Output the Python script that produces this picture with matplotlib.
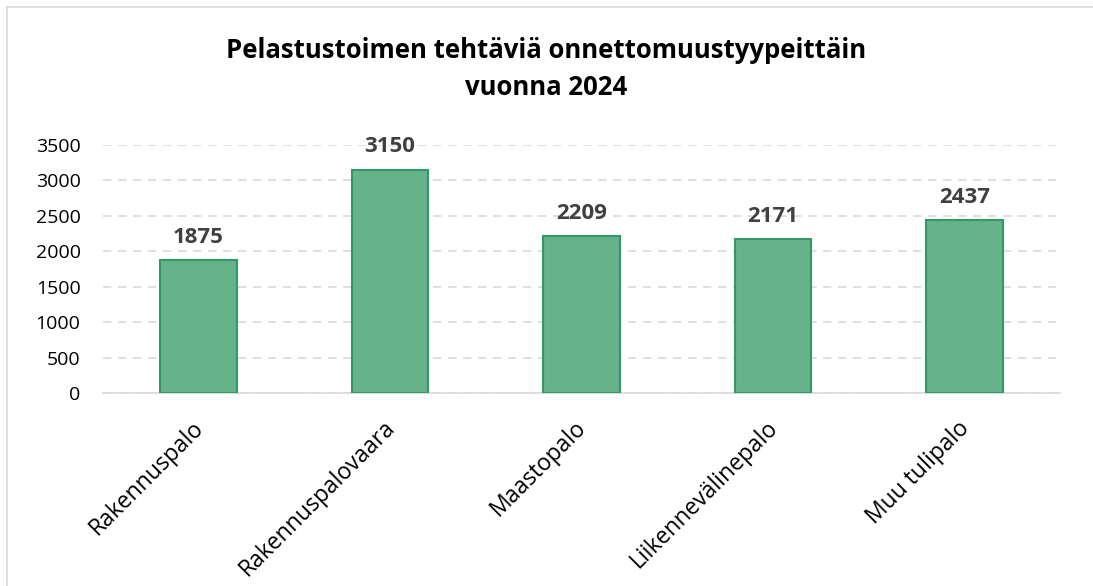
import matplotlib
matplotlib.use("Agg")
import matplotlib.pyplot as plt
from matplotlib.lines import Line2D
from matplotlib.transforms import ScaledTranslation

categories = ["Rakennuspalo", "Rakennuspalovaara", "Maastopalo", "Liikennevälinepalo", "Muu tulipalo"]
values = [1875, 3150, 2209, 2171, 2437]
yticks = [0, 500, 1000, 1500, 2000, 2500, 3000, 3500]
title = "Pelastustoimen tehtäviä onnettomuustyypeittäin\nvuonna 2024"

plt.rcParams['font.family'] = ['Open Sans', 'DejaVu Sans']

fig = plt.figure(figsize=(10.93, 5.86), dpi=100)
# chart-area border (only top and left edges visible in the crop)
fig.lines.append(Line2D([0.0065, 0.0065], [0.0, 0.988], transform=fig.transFigure,
                        color='#d9d9d9', linewidth=1.2))
fig.lines.append(Line2D([0.0065, 1.0], [0.988, 0.988], transform=fig.transFigure,
                        color='#d9d9d9', linewidth=1.2))
ax = fig.add_axes([0.094, 0.329, 0.876, 0.424])

x = list(range(len(categories)))
ax.bar(x, values, width=0.4, color='#66b28a', edgecolor='#339966', linewidth=1.5, zorder=3)
for xi, v in zip(x, values):
    ax.annotate(str(v), (xi, v), xytext=(0, 9), textcoords='offset points',
                ha='center', va='bottom', fontsize=16, fontweight='bold', color='#404040')

ax.set_xlim(-0.5, len(categories) - 0.5)
ax.set_ylim(0, 3500)
ax.set_yticks(yticks)
ax.set_yticklabels([str(t) for t in yticks], fontsize=14, color='#000000')
ax.set_xticks(x)
ax.set_xticklabels(categories, rotation=45, ha='right', rotation_mode='anchor', fontsize=16.5)
ax.tick_params(axis='y', length=0, pad=16)
ax.tick_params(axis='x', length=0, pad=10)
offset = ScaledTranslation(-0.07, -0.09, fig.dpi_scale_trans)
for lbl in ax.get_xticklabels():
    lbl.set_transform(lbl.get_transform() + offset)
ax.yaxis.grid(True, linestyle=(0, (5, 4)), color='#d9d9d9', linewidth=1.2, zorder=0)
for s in ['top', 'right', 'left']:
    ax.spines[s].set_visible(False)
ax.spines['bottom'].set_color('#d9d9d9')
ax.spines['bottom'].set_linewidth(1.2)

fig.text(0.5, 0.882, title, ha='center', va='center', fontsize=18.5, fontweight='bold',
         linespacing=1.5, color='#000000')

fig.savefig("out.png", dpi=100)
